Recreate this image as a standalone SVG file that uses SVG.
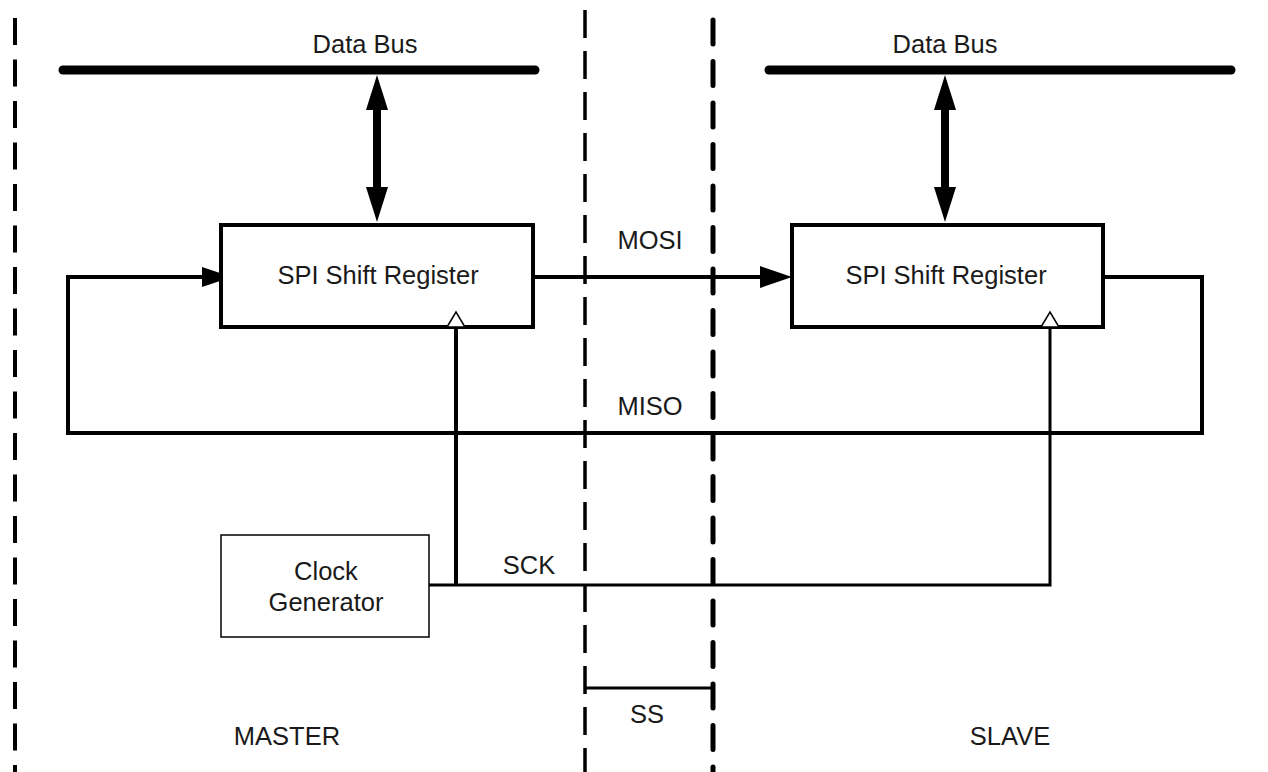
<svg xmlns="http://www.w3.org/2000/svg" width="1268" height="772" viewBox="0 0 1268 772">
<style>
.t{font-family:"Liberation Sans",Arial,sans-serif;font-size:25.5px;fill:#1a1a1a;text-anchor:middle}
.box{fill:#fff;stroke:#000;stroke-width:4}
.thin{fill:#fff;stroke:#000;stroke-width:1.5}
.bus{stroke:#000;stroke-width:9;stroke-linecap:round;fill:none}
.w{stroke:#000;stroke-width:4;fill:none}
.w3{stroke:#000;stroke-width:3;fill:none}
.dash1{stroke:#000;stroke-width:4;stroke-dasharray:27 14.5;stroke-linecap:butt;fill:none}
.dash2{stroke:#000;stroke-width:3.5;stroke-dasharray:28 13;fill:none}
.dash3{stroke:#000;stroke-width:5;stroke-dasharray:24 17.5;stroke-linecap:round;fill:none}
.ah{fill:#000}
.clk{fill:#fff;stroke:#000;stroke-width:1.5}
</style>
<g id="boundaries">
<line class="dash1" x1="15" y1="18" x2="15" y2="772"/>
<line class="dash2" x1="585" y1="10" x2="585" y2="772"/>
<line class="dash3" x1="713" y1="20" x2="713" y2="772"/>
</g>
<g id="connectors">
<line class="bus" x1="63" y1="70" x2="535" y2="70"/>
<line class="bus" x1="769" y1="70" x2="1231" y2="70"/>
<line x1="377" y1="100" x2="377" y2="200" stroke="#000" stroke-width="8"/>
<polygon class="ah" points="377,75 366,110 388,110"/>
<polygon class="ah" points="377,222 366,187 388,187"/>
<line x1="945" y1="100" x2="945" y2="200" stroke="#000" stroke-width="8"/>
<polygon class="ah" points="945,75 934,110 956,110"/>
<polygon class="ah" points="945,222 934,187 956,187"/>
<polyline class="w" points="205,277 68,277 68,433 1202,433 1202,277 1103,277"/>
<polygon class="ah" points="232,277 202,267 202,287"/>
<line class="w" x1="533" y1="277" x2="765" y2="277"/>
<polygon class="ah" points="792,277 760,266 760,288"/>
<line class="w" x1="456" y1="327" x2="456" y2="585"/>
<polyline class="w3" points="429,585 1050,585 1050,327"/>
<line x1="585" y1="688" x2="713" y2="688" stroke="#000" stroke-width="3"/>
</g>
<g id="master-reg">
<rect class="box" x="221" y="225" width="312" height="102"/>
<polygon class="clk" points="447,327 456,312 465,327"/>
<text class="t" x="378" y="284">SPI Shift Register</text>
</g>
<g id="slave-reg">
<rect class="box" x="792" y="225" width="311" height="102"/>
<polygon class="clk" points="1041,327 1050,312 1059,327"/>
<text class="t" x="946" y="284">SPI Shift Register</text>
</g>
<g id="clock-gen">
<rect class="thin" x="221" y="535" width="208" height="102"/>
<text class="t" x="326" y="580">Clock</text>
<text class="t" x="326" y="611">Generator</text>
</g>
<g id="labels">
<text class="t" x="365" y="53">Data Bus</text>
<text class="t" x="945" y="53">Data Bus</text>
<text class="t" x="650" y="249">MOSI</text>
<text class="t" x="650" y="415">MISO</text>
<text class="t" x="529" y="574">SCK</text>
<text class="t" x="647" y="723">SS</text>
<text class="t" x="287" y="745">MASTER</text>
<text class="t" x="1010" y="745">SLAVE</text>
</g>
</svg>
